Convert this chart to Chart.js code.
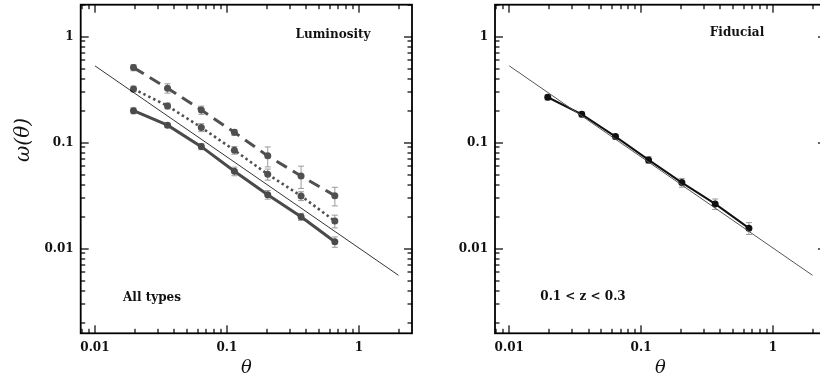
<!DOCTYPE html>
<html><head><meta charset="utf-8">
<script src="https://cdn.jsdelivr.net/npm/chart.js@4.4.0/dist/chart.umd.min.js"></script>
<style>
html,body{margin:0;padding:0;background:#fff;overflow:hidden;width:820px;height:379px}
.panel{position:absolute;top:0;width:416px;height:379px}
#left{left:0}
#right{left:414px}
</style></head><body>
<div class="panel" id="left"><canvas id="c1" width="416" height="379"></canvas></div>
<div class="panel" id="right"><canvas id="c2" width="416" height="379"></canvas></div>
<script>
// ---- data ----
const theta = [0.0196, 0.0355, 0.064, 0.114, 0.204, 0.365, 0.658];
const lumBright = [0.51, 0.326, 0.203, 0.125, 0.075, 0.0485, 0.0316];
const lumBrightErr = [0.034, 0.033, 0.018, 0.008, 0.016, 0.0115, 0.0063];
const lumMid = [0.321, 0.222, 0.139, 0.0848, 0.0503, 0.0314, 0.0182];
const lumMidErr = [0.02, 0.014, 0.012, 0.007, 0.006, 0.003, 0.0025];
const lumFaint = [0.2, 0.146, 0.0917, 0.0537, 0.0323, 0.02, 0.0116];
const lumFaintErr = [0.013, 0.006, 0.006, 0.005, 0.003, 0.0015, 0.0013];
const fiducial = [0.268, 0.185, 0.114, 0.0687, 0.042, 0.0264, 0.0156];
const fiducialErr = [0.015, 0.01, 0.006, 0.005, 0.004, 0.003, 0.002];
const powerLawX = [0.01, 2.0];
const powerLawY = [0.53, 0.0056];
const xTicks = [0.01, 0.1, 1];
const xTickLabels = ['0.01', '0.1', '1'];
const yTicks = [0.01, 0.1, 1];
const yTickLabels = ['0.01', '0.1', '1'];

const X_MIN = 0.0078, X_MAX = 2.53, Y_MIN = 0.00159, Y_MAX = 2.0;
const tickFont = {family: 'DejaVu Serif', weight: 'bold', size: 12};

function pts(xs, ys){ return xs.map((x,i) => ({x, y: ys[i]})); }

// minor + major tick values inside a range (1..9 x 10^n)
function logTicks(min, max){
  const out = [];
  for(let d=Math.floor(Math.log10(min)); d<=Math.ceil(Math.log10(max)); d++){
    for(let m=1; m<=9; m++){
      const v = m*Math.pow(10,d);
      if(v >= min && v <= max) out.push({v, major: m===1});
    }
  }
  return out;
}

// frame, inward ticks, error bars and panel notes
const decor = {
  id: 'decor',
  beforeDatasetsDraw(chart){
    const ctx = chart.ctx, xs = chart.scales.x, ys = chart.scales.y;
    ctx.save();
    chart.data.datasets.forEach(ds => {
      if(!ds.err) return;
      ctx.strokeStyle = '#9a9a9a';
      ctx.lineWidth = 1;
      ds.data.forEach((p,j) => {
        const px = xs.getPixelForValue(p.x);
        const y1 = ys.getPixelForValue(p.y - ds.err[j]);
        const y2 = ys.getPixelForValue(p.y + ds.err[j]);
        ctx.beginPath();
        ctx.moveTo(px, y1); ctx.lineTo(px, y2);
        ctx.moveTo(px-3, y1); ctx.lineTo(px+3, y1);
        ctx.moveTo(px-3, y2); ctx.lineTo(px+3, y2);
        ctx.stroke();
      });
    });
    ctx.restore();
  },
  afterDraw(chart, args, opts){
    const ctx = chart.ctx, a = chart.chartArea, xs = chart.scales.x, ys = chart.scales.y;
    ctx.save();
    ctx.fillStyle = '#000';
    logTicks(X_MIN, X_MAX).forEach(t => {
      const len = t.major ? 8 : 4.5;
      const px = Math.round(xs.getPixelForValue(t.v));
      ctx.fillRect(px-0.6, a.bottom-len, 1.2, len);
      ctx.fillRect(px-0.6, a.top, 1.2, len);
    });
    logTicks(Y_MIN, Y_MAX).forEach(t => {
      const len = t.major ? 8 : 4.5;
      const py = Math.round(ys.getPixelForValue(t.v));
      ctx.fillRect(a.left, py-0.6, len, 1.2);
      ctx.fillRect(a.right-len, py-0.6, len, 1.2);
    });
    ctx.strokeStyle = '#000';
    ctx.lineWidth = 1.8;
    ctx.strokeRect(a.left, a.top, a.right-a.left, a.bottom-a.top);

    ctx.fillStyle = '#111';
    ctx.textAlign = 'center';
    ctx.textBaseline = 'middle';
    ctx.font = 'bold 12px "DejaVu Serif"';
    (opts.notes || []).forEach(n => ctx.fillText(n.text, n.x, n.y));
    if(opts.ylabel){
      ctx.translate(24, 140);
      ctx.rotate(-Math.PI/2);
      ctx.font = 'italic 20px "DejaVu Serif"';
      ctx.fillText('ω(θ)', 0, 0);
    }
    ctx.restore();
  }
};

function makeScales(yWidth){
  return {
    x: {
      type: 'logarithmic', min: X_MIN, max: X_MAX, bounds: 'data',
      grid: {display: false, drawTicks: false}, border: {display: false},
      afterBuildTicks: s => { s.ticks = xTicks.map(v => ({value: v})); },
      afterFit: s => { s.height = 45.7; s.paddingLeft = 0; s.paddingRight = 0; },
      ticks: {autoSkip: false, maxRotation: 0, padding: 7, color: '#111', font: tickFont,
        callback: (v, i) => xTickLabels[i]},
      title: {display: true, text: 'θ', color: '#111', padding: 0,
        font: {family: 'DejaVu Serif', style: 'italic', size: 18}}
    },
    y: {
      type: 'logarithmic', min: Y_MIN, max: Y_MAX, bounds: 'data',
      grid: {display: false, drawTicks: false}, border: {display: false},
      afterBuildTicks: s => { s.ticks = yTicks.map(v => ({value: v})); },
      afterFit: s => { s.width = yWidth; s.paddingTop = 0; s.paddingBottom = 0; },
      ticks: {autoSkip: false, padding: 7, color: '#111', font: tickFont,
        callback: (v, i) => yTickLabels[i]}
    }
  };
}

function lineSet(data, color, width, dash, err){
  return {data, showLine: true, borderColor: color, borderWidth: width, borderDash: dash,
    pointRadius: 3.5, pointBackgroundColor: color, pointBorderWidth: 0, err};
}

const baseOpts = {responsive: false, animation: false, events: [],
  plugins: {legend: {display: false}, tooltip: {enabled: false}}};

new Chart(document.getElementById('c1'), {
  type: 'scatter',
  data: {datasets: [
    {data: pts(powerLawX, powerLawY), showLine: true, borderColor: '#000', borderWidth: 0.8, pointRadius: 0},
    lineSet(pts(theta, lumBright), '#505050', 3, [12, 7], lumBrightErr),
    lineSet(pts(theta, lumMid), '#505050', 2.6, [2.5, 3], lumMidErr),
    lineSet(pts(theta, lumFaint), '#4a4a4a', 3, [], lumFaintErr)
  ]},
  options: Object.assign({}, baseOpts, {
    layout: {padding: {left: 0, right: 2.7, top: 4.7, bottom: 0}},
    scales: makeScales(80.7),
    plugins: Object.assign({}, baseOpts.plugins, {decor: {ylabel: true, notes: [
      {text: 'Luminosity', x: 333, y: 35},
      {text: 'All types', x: 152, y: 298}
    ]}})
  }),
  plugins: [decor]
});

new Chart(document.getElementById('c2'), {
  type: 'scatter',
  data: {datasets: [
    {data: pts(powerLawX, powerLawY), showLine: true, borderColor: '#555', borderWidth: 1, pointRadius: 0},
    lineSet(pts(theta, fiducial), '#111', 2, [], fiducialErr)
  ]},
  options: Object.assign({}, baseOpts, {
    layout: {padding: {left: 0, right: 1.7, top: 4.7, bottom: 0}},
    scales: makeScales(81),
    plugins: Object.assign({}, baseOpts.plugins, {decor: {ylabel: false, notes: [
      {text: 'Fiducial', x: 323, y: 33},
      {text: '0.1 < z < 0.3', x: 169, y: 297}
    ]}})
  }),
  plugins: [decor]
});
</script>
</body></html>
